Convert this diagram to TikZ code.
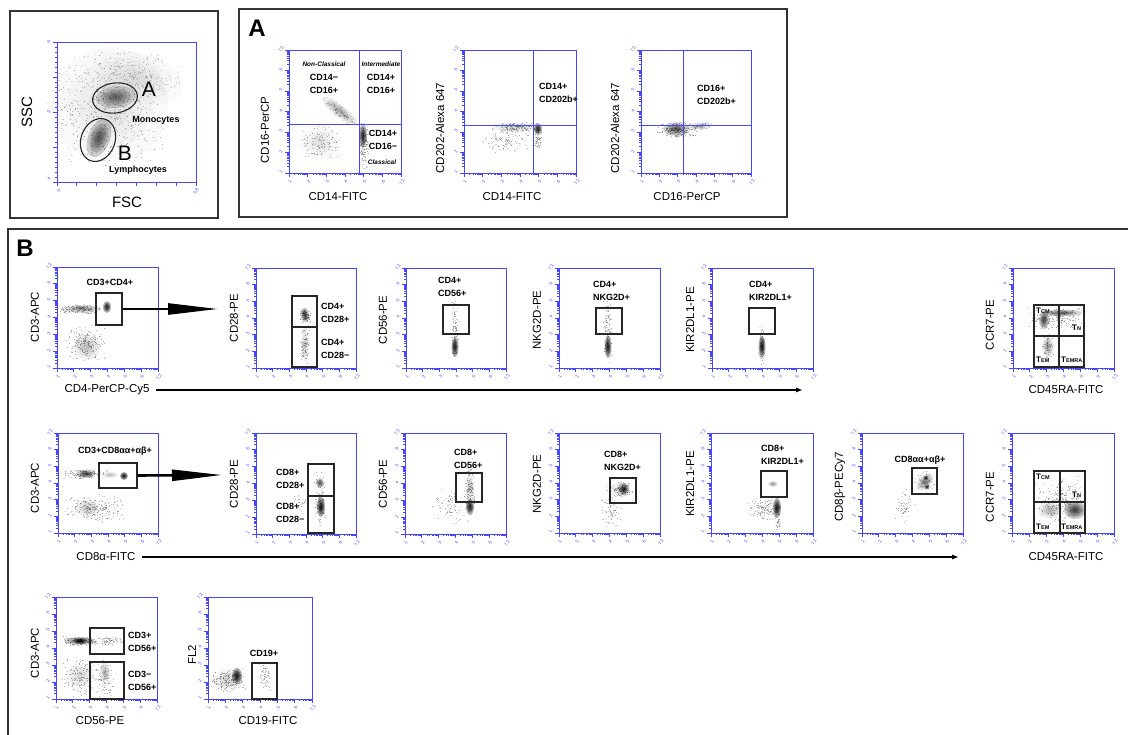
\documentclass[tikz,border=0pt]{standalone}
\usepackage{fontspec}
\setmainfont{Liberation Sans}
\usetikzlibrary{arrows.meta,shapes.geometric}
\definecolor{plotblue}{RGB}{70,70,255}

\tikzset{
  frame/.style={draw=plotblue, line width=0.7pt},
  tick/.style={draw=plotblue, line width=0.8pt},
  ticklbl/.style={text=plotblue, font=\fontsize{4.5}{4.5}\selectfont, inner sep=0pt, rotate=60},
  panel/.style={draw=black!80, line width=1.2pt},
  gate/.style={draw=black!85, line width=1.1pt, inner sep=0pt},
  gatelbl/.style={font=\bfseries\fontsize{9}{13}\selectfont, align=left, inner sep=0pt},
  qlbl/.style={font=\bfseries\itshape\fontsize{6.5}{8}\selectfont, inner sep=0pt},
  tlbl/.style={font=\bfseries\fontsize{8}{8}\selectfont, inner sep=0pt, anchor=west},
  axlbl/.style={font=\fontsize{11.5}{13}\selectfont, inner sep=0pt},
  ylbl/.style={axlbl, rotate=90},
  events/.style={draw=black!45, line width=0.75pt, line cap=round},
  bigarrow/.style={line width=2.6pt, -{Triangle[length=50pt, width=11pt]}},
  flow/.style={line width=1.1pt, -{Triangle[length=6pt, width=4.5pt]}},
}

% log axes: x1 y1 x2 y2 of the frame
\newcommand{\logaxes}[4]{%
  \draw[frame] (#1,#2) rectangle (#3,#4);
  \pgfmathsetmacro{\fdx}{(#3-#1)/6}
  \pgfmathsetmacro{\fdy}{(#4-#2)/6}
  \draw[tick] foreach \dec in {0,...,5}{
    foreach \mn in {0.301,0.477,0.602,0.699,0.778,0.845,0.903,0.954}{
      ({#1+(\dec+\mn)*\fdx},#4) -- ++(0,2)
      (#1,{#4-(\dec+\mn)*\fdy}) -- ++(-2,0)
    }};
  \draw[tick] foreach \dec in {0,...,6}{
      ({#1+\dec*\fdx},#4) -- ++(0,4)
      (#1,{#4-\dec*\fdy}) -- ++(-4,0)};
  \foreach \dec/\tl in {0/1,1/2,2/3,3/4,4/5,5/6,6/7.2}{
    \node[ticklbl] (bt\dec) at ({#1+\dec*\fdx+1},#4+9) {\tl};
    \node[ticklbl] (lt\dec) at (#1-8,{#4-\dec*\fdy-1}) {\tl};
  }
}

% linear axes for the scatter plot
\newcommand{\linaxes}[4]{%
  \draw[frame] (#1,#2) rectangle (#3,#4);
  \draw[tick] foreach \k in {1,...,27}{(#1,{#2+\k*(#4-#2)/28}) -- ++(-2,0)};
  \draw[tick] foreach \k in {0,...,4}{(#1,{#2+\k*(#4-#2)/4}) -- ++(-4,0)};
  \draw[tick] foreach \k in {0,...,7}{({#1+\k*(#3-#1)/7},#4) -- ++(0,4)};
  \node[ticklbl] (ly0) at (#1-8,#4-3) {4};
  \node[ticklbl] (ly1) at (#1-8,{(#2+#4)/2}) {5};
  \node[ticklbl] (ly2) at (#1-8,#2) {6};
  \node[ticklbl] (lx0) at (#1+2,#4+9) {0};
  \node[ticklbl] (lx1) at (#3,#4+9) {5.8};
}

% density: cx cy rx ry rot opacity
\newcommand{\blob}[6]{%
  \begin{scope}[shift={(#1,#2)}, rotate=#5]
    \foreach \s in {1,0.75,0.55,0.38,0.22}
      \fill[black, opacity=#6] (0,0) ellipse [x radius=\s*#3, y radius=\s*#4];
  \end{scope}}

% events: cx cy rx ry rot count
\newcommand{\cloud}[6]{%
  \begin{scope}[shift={(#1,#2)}, rotate=#5]
    \draw[events] foreach \i in {1,...,#6}{
      ({#3*(rand+rand)/2},{#4*(rand+rand)/2}) -- ++(0.05,0)};
  \end{scope}}

% gate box: name x1 y1 x2 y2
\newcommand{\gatebox}[5]{%
  \node[gate, minimum width={(#4-#2)*1pt}, minimum height={(#5-#3)*1pt}]
    (#1) at ({(#2+#4)/2},{(#3+#5)/2}) {};}

\newcommand{\tsub}[1]{T{\fontsize{5.5}{6}\selectfont #1}}

\begin{document}
\begin{tikzpicture}[x=1pt, y=-1pt]
\useasboundingbox (0,0) rectangle (1128,735);
\pgfmathsetseed{11}

% ---------- FSC / SSC overview
\draw[panel] (10,11) rectangle (218,218);
\blob{110}{105}{58}{58}{0}{0.025}
\blob{140}{78}{45}{25}{-15}{0.02}
\cloud{108}{108}{62}{62}{0}{550}
\cloud{140}{75}{45}{25}{-15}{200}
\blob{116}{97}{20}{11}{5}{0.15}
\blob{99}{138}{11}{20}{-20}{0.18}
\linaxes{57}{42}{196}{182}
\node[gate, ellipse, minimum width=45pt, minimum height=30pt, rotate=8] (gmono) at (115,98) {};
\node[gate, ellipse, minimum width=34pt, minimum height=44pt, rotate=-20] (glymph) at (98,140) {};
\node[font=\fontsize{21}{21}\selectfont, inner sep=0pt] (la) at (149,89) {A};
\node[font=\fontsize{21}{21}\selectfont, inner sep=0pt] (lb) at (125,153) {B};
\node[gatelbl] (mono) at (156,120) {Monocytes};
\node[gatelbl] (lymph) at (138,170) {Lymphocytes};
\node[ylbl, font=\fontsize{15}{15}\selectfont] (ssc) at (27,112) {SSC};
\node[axlbl, font=\fontsize{15}{15}\selectfont] (fsc) at (127,202) {FSC};

% ---------- panel A
\draw[panel] (239,9) rectangle (787,217);
\node[font=\bfseries\fontsize{24}{24}\selectfont, inner sep=0pt] (pa) at (257,28) {A};

% CD16 vs CD14
\cloud{340}{112}{22}{6}{-38}{120}
\cloud{320}{142}{22}{18}{0}{120}
\cloud{364}{145}{5}{25}{0}{110}
\blob{340}{111}{22}{6}{-38}{0.07}
\blob{320}{142}{20}{16}{0}{0.025}
\blob{363}{136}{4}{12}{0}{0.28}
\logaxes{289}{50}{401}{173}
\draw[frame] (359,50) -- (359,173);
\draw[frame] (289,124) -- (401,124);
\node[qlbl] (nc) at (324,64) {Non-Classical};
\node[gatelbl, align=center] (ncq) at (324,84) {CD14−\\CD16+};
\node[qlbl] (im) at (381,64) {Intermediate};
\node[gatelbl, align=center] (imq) at (381,84) {CD14+\\CD16+};
\node[gatelbl, align=center] (clq) at (383,140) {CD14+\\CD16−};
\node[qlbl] (cl) at (382,162) {Classical};
\node[ylbl] (a1y) at (265,130) {CD16-PerCP};
\node[axlbl] (a1x) at (338,197) {CD14-FITC};

% CD202 vs CD14
\cloud{515}{127}{25}{5}{0}{120}
\cloud{505}{138}{25}{15}{0}{120}
\cloud{538}{140}{4}{15}{0}{60}
\blob{515}{127}{24}{5}{0}{0.04}
\blob{538}{129}{4}{6}{0}{0.3}
\logaxes{464}{50}{576}{173}
\draw[frame] (533,50) -- (533,173);
\draw[frame] (464,125) -- (576,125);
\node[gatelbl, anchor=west] (a2q) at (539,93) {CD14+\\CD202b+};
\node[ylbl] (a2y) at (440,128) {CD202-Alexa 647};
\node[axlbl] (a2x) at (512,197) {CD14-FITC};

% CD202 vs CD16
\cloud{678}{130}{22}{9}{0}{220}
\cloud{702}{126}{12}{4}{5}{60}
\blob{676}{129}{13}{7}{0}{0.16}
\blob{700}{126}{12}{4}{5}{0.06}
\logaxes{641}{50}{751}{173}
\draw[frame] (683,50) -- (683,173);
\draw[frame] (641,125) -- (751,125);
\node[gatelbl, anchor=west] (a3q) at (697,95) {CD16+\\CD202b+};
\node[ylbl] (a3y) at (615,128) {CD202-Alexa 647};
\node[axlbl] (a3x) at (687,197) {CD16-PerCP};

% ---------- panel B
\draw[panel] (8,229) rectangle (1140,760);
\node[font=\bfseries\fontsize{24}{24}\selectfont, inner sep=0pt] (pb) at (25,248) {B};

% row 1: CD4
\cloud{80}{309}{24}{5}{0}{150}
\cloud{85}{343}{22}{20}{0}{180}
\blob{82}{309}{20}{4}{0}{0.09}
\blob{107}{307}{4}{6}{0}{0.3}
\blob{87}{347}{13}{13}{0}{0.06}
\logaxes{57}{267}{158}{368}
\gatebox{g11}{96}{293}{122}{325}
\node[gatelbl] (t11) at (110,282) {CD3+CD4+};
\node[ylbl] (y11) at (35,317) {CD3-APC};
\node[axlbl] (x11) at (107,390) {CD4-PerCP-Cy5};
\coordinate (r1tip) at (218,309);
\draw[bigarrow] (g11.east) -- (r1tip);
\coordinate (r1end) at (802,0);
\draw[flow] ([xshift=6pt]x11.east) -- (x11.east -| r1end);

\cloud{305}{316}{7}{9}{0}{60}
\cloud{305}{345}{5}{20}{0}{90}
\blob{305}{315}{4}{7}{10}{0.25}
\blob{305}{345}{4}{18}{0}{0.04}
\logaxes{256}{268}{356}{368}
\gatebox{g12a}{292}{296}{317}{327}
\gatebox{g12b}{292}{327}{317}{367}
\node[gatelbl, anchor=west] (t12a) at (321,313) {CD4+\\CD28+};
\node[gatelbl, anchor=west] (t12b) at (321,349) {CD4+\\CD28−};
\node[ylbl] (y12) at (234,318) {CD28-PE};

\cloud{455}{330}{4}{35}{0}{110}
\blob{455}{347}{3.5}{10}{0}{0.3}
\logaxes{406}{268}{506}{368}
\gatebox{g13}{443}{305}{469}{334}
\node[gatelbl, anchor=west] (t13) at (438,287) {CD4+\\CD56+};
\node[ylbl] (y13) at (383,320) {CD56-PE};

\cloud{608}{328}{5}{35}{0}{120}
\blob{608}{347}{3.5}{11}{0}{0.3}
\logaxes{559}{268}{660}{368}
\gatebox{g14}{596}{308}{622}{334}
\node[gatelbl, anchor=west] (t14) at (593,291) {CD4+\\NKG2D+};
\node[ylbl] (y14) at (537,320) {NKG2D-PE};

\cloud{762}{345}{3.5}{20}{0}{80}
\blob{762}{347}{3.5}{11}{0}{0.3}
\logaxes{712}{268}{813}{368}
\gatebox{g15}{749}{308}{775}{334}
\node[gatelbl, anchor=west] (t15) at (749,291) {CD4+\\KIR2DL1+};
\node[ylbl] (y15) at (690,320) {KIR2DL1-PE};

\cloud{1055}{318}{30}{12}{0}{180}
\cloud{1048}{347}{8}{14}{0}{60}
\blob{1062}{313}{20}{3.5}{0}{0.17}
\blob{1044}{320}{5}{9}{0}{0.22}
\blob{1048}{347}{6}{10}{0}{0.08}
\logaxes{1013}{268}{1114}{368}
\draw[gate] (1034,305) rectangle (1084,367);
\draw[gate] (1059,305) -- (1059,367) (1034,336) -- (1084,336);
\node[tlbl] (tcm1) at (1036,311) {\tsub{CM}};
\node[tlbl] (tn1) at (1072,328) {\tsub{N}};
\node[tlbl] (tem1) at (1036,360) {\tsub{EM}};
\node[tlbl] (temra1) at (1061,360) {\tsub{EMRA}};
\node[ylbl] (y16) at (990,325) {CCR7-PE};
\node[axlbl] (x16) at (1066,390) {CD45RA-FITC};

% row 2: CD8
\cloud{85}{474}{25}{5}{0}{150}
\cloud{95}{508}{32}{14}{0}{220}
\blob{86}{474}{9}{4}{0}{0.2}
\blob{110}{475}{8}{3}{0}{0.06}
\blob{124}{476}{4}{4}{0}{0.32}
\blob{88}{508}{12}{9}{0}{0.05}
\logaxes{58}{433}{158}{533}
\gatebox{g21}{99}{463}{137}{488}
\node[gatelbl] (t21) at (115,451) {CD3+CD8αα+αβ+};
\node[ylbl] (y21) at (35,488) {CD3-APC};
\node[axlbl] (x21) at (106,557) {CD8α-FITC};
\coordinate (r2tip) at (222,475);
\draw[bigarrow] (g21.east) -- (r2tip);
\coordinate (r2end) at (958,0);
\draw[flow] ([xshift=6pt]x21.east) -- (x21.east -| r2end);

\cloud{320}{500}{6}{30}{0}{110}
\cloud{300}{505}{8}{15}{0}{30}
\blob{320}{483}{4}{5}{0}{0.2}
\blob{321}{507}{4}{10}{0}{0.32}
\logaxes{256}{433}{356}{534}
\gatebox{g22a}{308}{464}{334}{496}
\gatebox{g22b}{308}{496}{334}{533}
\node[gatelbl, anchor=west] (t22a) at (276,479) {CD8+\\CD28+};
\node[gatelbl, anchor=west] (t22b) at (276,513) {CD8+\\CD28−};
\node[ylbl] (y22) at (234,484) {CD28-PE};

\cloud{470}{490}{5}{35}{0}{130}
\cloud{450}{505}{18}{20}{0}{90}
\blob{470}{507}{4}{8}{0}{0.3}
\blob{470}{488}{5}{16}{0}{0.04}
\logaxes{405}{433}{506}{534}
\gatebox{g23}{456}{473}{482}{502}
\node[gatelbl, anchor=west] (t23) at (454,459) {CD8+\\CD56+};
\node[ylbl] (y23) at (383,484) {CD56-PE};

\cloud{620}{490}{14}{10}{0}{110}
\cloud{610}{512}{12}{16}{0}{70}
\blob{622}{490}{10}{8}{0}{0.04}
\blob{624}{489}{5}{6}{0}{0.27}
\logaxes{559}{433}{660}{533}
\gatebox{g24}{610}{478}{636}{503}
\node[gatelbl, anchor=west] (t24) at (604,461) {CD8+\\NKG2D+};
\node[ylbl] (y24) at (537,484) {NKG2D-PE};

\cloud{765}{510}{18}{12}{0}{150}
\cloud{778}{525}{3}{8}{0}{30}
\blob{773}{484}{5}{3}{0}{0.1}
\blob{777}{508}{4}{10}{0}{0.32}
\logaxes{711}{433}{813}{533}
\gatebox{g25}{761}{471}{787}{497}
\node[gatelbl, anchor=west] (t25) at (761,455) {CD8+\\KIR2DL1+};
\node[ylbl] (y25) at (690,484) {KIR2DL1-PE};

\cloud{925}{482}{10}{10}{30}{110}
\cloud{905}{505}{10}{18}{0}{60}
\blob{925}{482}{10}{6}{45}{0.1}
\blob{926}{478}{2.5}{2.5}{0}{0.3}
\blob{927}{487}{2.5}{2.5}{0}{0.3}
\logaxes{862}{433}{963}{533}
\gatebox{g26}{912}{468}{937}{494}
\node[gatelbl] (t26) at (920,460) {CD8αα+αβ+};
\node[ylbl] (y26) at (840,487) {CD8β-PECy7};

\cloud{1060}{500}{25}{25}{0}{250}
\blob{1075}{510}{11}{9}{0}{0.22}
\blob{1050}{510}{12}{8}{0}{0.07}
\logaxes{1012}{433}{1114}{533}
\draw[gate] (1034,471) rectangle (1085,533);
\draw[gate] (1060,471) -- (1060,533) (1034,502) -- (1085,502);
\node[tlbl] (tcm2) at (1036,477) {\tsub{CM}};
\node[tlbl] (tn2) at (1072,495) {\tsub{N}};
\node[tlbl] (tem2) at (1036,527) {\tsub{EM}};
\node[tlbl] (temra2) at (1061,527) {\tsub{EMRA}};
\node[ylbl] (y27) at (990,497) {CCR7-PE};
\node[axlbl] (x27) at (1066,557) {CD45RA-FITC};

% row 3: NK and B cells
\cloud{80}{641}{22}{5}{0}{150}
\cloud{110}{641}{14}{4}{0}{70}
\cloud{80}{678}{20}{20}{0}{150}
\cloud{105}{678}{10}{20}{0}{90}
\blob{80}{641}{16}{4}{0}{0.16}
\blob{80}{641}{6}{3}{0}{0.3}
\blob{105}{672}{5}{10}{0}{0.07}
\blob{80}{676}{14}{14}{0}{0.03}
\logaxes{56}{597}{157}{699}
\gatebox{g31a}{90}{628}{124}{654}
\gatebox{g31b}{90}{662}{124}{699}
\node[gatelbl, anchor=west] (t31a) at (128,642) {CD3+\\CD56+};
\node[gatelbl, anchor=west] (t31b) at (128,681) {CD3−\\CD56+};
\node[ylbl] (y31) at (35,653) {CD3-APC};
\node[axlbl] (x31) at (100,721) {CD56-PE};

\cloud{228}{680}{20}{14}{0}{180}
\cloud{265}{678}{7}{14}{0}{60}
\blob{237}{676}{5}{8}{0}{0.32}
\blob{228}{680}{16}{11}{0}{0.03}
\logaxes{208}{597}{312}{699}
\gatebox{g32}{252}{663}{277}{699}
\node[gatelbl] (t32) at (264,653) {CD19+};
\node[ylbl] (y32) at (192,655) {FL2};
\node[axlbl] (x32) at (268,721) {CD19-FITC};
\end{tikzpicture}
\end{document}
